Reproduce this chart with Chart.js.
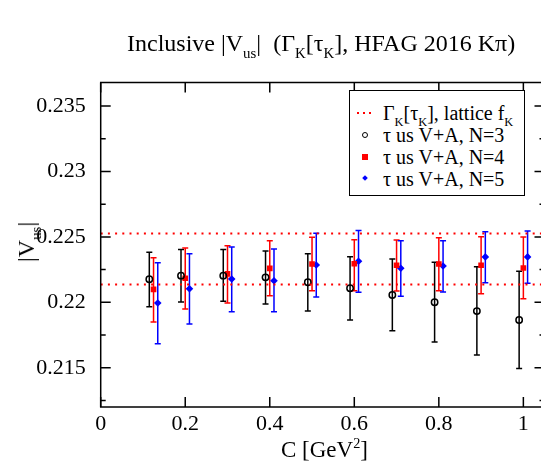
<!DOCTYPE html>
<html>
<head>
<meta charset="utf-8">
<script src="https://cdn.jsdelivr.net/npm/chart.js@4"></script>
<style>
  body { margin: 0; width: 541px; height: 469px; overflow: hidden; background: #fff; position: relative;
         font-family: "Liberation Serif", serif; color: #000; }
  #wrap { position: absolute; left: 0; top: 0; width: 550px; height: 469px; }
  .lbl { position: absolute; white-space: nowrap; line-height: 1; }
  .lbl sub { font-size: 0.62em; vertical-align: -0.45em; line-height: 0; }
  .lbl sup { font-size: 0.62em; vertical-align: 0.65em; line-height: 0; }
  #title { left: 127px; top: 31px; font-size: 24px; }
  #xtitle { left: 281px; top: 438px; font-size: 23px; }
  #ytitle { left: 26px; top: 242px; font-size: 24px; transform: translate(-50%, -50%) rotate(-90deg); }
  #legend { position: absolute; left: 349px; top: 90px; width: 174px; height: 104px; border: 1px solid #000;
            background: #fff; font-size: 20px; }
  .row { position: absolute; left: 0; height: 22px; width: 174px; }
  .row .t { position: absolute; left: 33px; top: 1px; white-space: nowrap; line-height: 1; }
  .row .t sub { font-size: 0.62em; vertical-align: -0.45em; line-height: 0; }
  .sym { position: absolute; }
</style>
</head>
<body>
<div id="wrap"><canvas id="chart" width="550" height="469"></canvas></div>

<div class="lbl" id="title">Inclusive |V<sub>us</sub>|&nbsp; (&Gamma;<sub>K</sub>[&tau;<sub>K</sub>], HFAG 2016 K&pi;)</div>
<div class="lbl" id="xtitle">C [GeV<sup>2</sup>]</div>
<div class="lbl" id="ytitle">|V<sub>us</sub>|</div>

<div id="legend">
  <div class="row" style="top:11px">
    <div class="sym" style="left:7px;top:10px;width:16px;height:2px;background:repeating-linear-gradient(90deg,#f00 0 2px,transparent 2px 6px);"></div>
    <div class="t">&Gamma;<sub>K</sub>[&tau;<sub>K</sub>], lattice f<sub>K</sub></div>
  </div>
  <div class="row" style="top:33px">
    <div class="sym" style="left:12px;top:8px;width:4px;height:4px;border:1px solid #000;border-radius:50%;"></div>
    <div class="t">&tau; us V+A, N=3</div>
  </div>
  <div class="row" style="top:55px">
    <div class="sym" style="left:12px;top:8px;width:6px;height:6px;background:#f00;"></div>
    <div class="t">&tau; us V+A, N=4</div>
  </div>
  <div class="row" style="top:77px">
    <div class="sym" style="left:13px;top:8px;width:4px;height:4px;background:#00f;transform:rotate(45deg);"></div>
    <div class="t">&tau; us V+A, N=5</div>
  </div>
</div>

<script>
// C values of the point groups (GeV^2)
const cValues = [0.125, 0.2, 0.3, 0.4, 0.5, 0.6, 0.7, 0.8, 0.9, 1.0];
// small horizontal shift of each series inside a group
const shiftN3 = -0.01;
const shiftN4 = 0;
const shiftN5 = 0.01;

// tau us V+A, N=3
const n3Vus  = [0.22176, 0.22204, 0.22204, 0.22191, 0.22153, 0.22107, 0.22056, 0.22000, 0.21933, 0.21865];
const n3Low  = [0.21966, 0.22002, 0.22008, 0.21987, 0.21933, 0.21865, 0.21783, 0.21696, 0.21597, 0.21495];
const n3High = [0.22383, 0.22403, 0.22403, 0.22393, 0.22372, 0.22349, 0.22331, 0.22306, 0.22272, 0.22237];

// tau us V+A, N=4
const n4Vus  = [0.22099, 0.22184, 0.22217, 0.22260, 0.22293, 0.22295, 0.22283, 0.22293, 0.22283, 0.22262];
const n4Low  = [0.21849, 0.21949, 0.21995, 0.22051, 0.22089, 0.22088, 0.22086, 0.22089, 0.22066, 0.22028];
const n4High = [0.22341, 0.22416, 0.22433, 0.22471, 0.22497, 0.22478, 0.22477, 0.22494, 0.22502, 0.22500];

// tau us V+A, N=5
const n5Vus  = [0.21995, 0.22104, 0.22178, 0.22165, 0.22285, 0.22314, 0.22260, 0.22278, 0.22347, 0.22347];
const n5Low  = [0.21683, 0.21834, 0.21928, 0.21928, 0.22041, 0.22077, 0.22046, 0.22079, 0.22150, 0.22145];
const n5High = [0.22303, 0.22372, 0.22423, 0.22408, 0.22528, 0.22548, 0.22471, 0.22471, 0.22540, 0.22546];

// Gamma_K[tau_K], lattice f_K band (lower, upper)
const latticeBand = [0.22137, 0.22526];

const xTicks = [0, 0.2, 0.4, 0.6, 0.8, 1];
const yTicks = [0.215, 0.22, 0.225, 0.23, 0.235];
const yMinorTicks = [0.2125, 0.2175, 0.2225, 0.2275, 0.2325];
const xMin = 0, xMax = 1.05, yMin = 0.212, yMax = 0.2368;

function points(vals, shift) {
    return vals.map((v, i) => ({ x: cValues[i] + shift, y: v }));
}

function bandLine(v) {
    return {
        type: 'line',
        data: [{ x: xMin, y: v }, { x: xMax, y: v }],
        borderColor: '#ff0000',
        borderWidth: 2,
        borderDash: [2, 5.2],
        pointRadius: 0,
        fill: false
    };
}

// error bars, drawn under the markers
const errorBars = {
    id: 'errorBars',
    beforeDatasetsDraw(chart) {
        const { ctx } = chart;
        const x = chart.scales.x, y = chart.scales.y;
        chart.data.datasets.forEach(ds => {
            if (!ds.errLow) return;
            ctx.save();
            ctx.strokeStyle = ds.errColor;
            ctx.lineWidth = 1.5;
            ds.data.forEach((p, j) => {
                const px = x.getPixelForValue(p.x);
                const top = y.getPixelForValue(ds.errHigh[j]);
                const bot = y.getPixelForValue(ds.errLow[j]);
                ctx.beginPath();
                ctx.moveTo(px, top); ctx.lineTo(px, bot);
                ctx.moveTo(px - 3, top); ctx.lineTo(px + 3, top);
                ctx.moveTo(px - 3, bot); ctx.lineTo(px + 3, bot);
                ctx.stroke();
            });
            ctx.restore();
        });
    }
};

// box frame with inward ticks on all sides
const frame = {
    id: 'frame',
    afterDraw(chart) {
        const { ctx, chartArea: a } = chart;
        const x = chart.scales.x, y = chart.scales.y;
        ctx.save();
        ctx.strokeStyle = '#000';
        ctx.lineWidth = 1.5;
        ctx.strokeRect(a.left, a.top, a.right - a.left, a.bottom - a.top);
        ctx.beginPath();
        xTicks.forEach(v => {
            const px = x.getPixelForValue(v);
            ctx.moveTo(px, a.bottom); ctx.lineTo(px, a.bottom - 10);
            ctx.moveTo(px, a.top); ctx.lineTo(px, a.top + 10);
        });
        yTicks.forEach(v => {
            const py = y.getPixelForValue(v);
            ctx.moveTo(a.left, py); ctx.lineTo(a.left + 10, py);
            ctx.moveTo(a.right, py); ctx.lineTo(a.right - 10, py);
        });
        yMinorTicks.forEach(v => {
            const py = y.getPixelForValue(v);
            ctx.moveTo(a.left, py); ctx.lineTo(a.left + 5, py);
            ctx.moveTo(a.right, py); ctx.lineTo(a.right - 5, py);
        });
        ctx.stroke();
        ctx.restore();
    }
};

Chart.defaults.font.family = '"Liberation Serif", serif';
Chart.defaults.font.size = 22;
Chart.defaults.color = '#000';

new Chart(document.getElementById('chart'), {
    type: 'scatter',
    data: {
        datasets: [
            bandLine(latticeBand[0]),
            bandLine(latticeBand[1]),
            {
                label: 'N=3',
                data: points(n3Vus, shiftN3),
                errLow: n3Low, errHigh: n3High, errColor: '#000',
                pointStyle: 'circle', pointRadius: 3.2,
                backgroundColor: 'rgba(0,0,0,0)', borderColor: '#000', borderWidth: 1.5
            },
            {
                label: 'N=4',
                data: points(n4Vus, shiftN4),
                errLow: n4Low, errHigh: n4High, errColor: '#ff0000',
                pointStyle: 'rect', pointRadius: 4,
                backgroundColor: '#ff0000', borderColor: '#ff0000', borderWidth: 0
            },
            {
                label: 'N=5',
                data: points(n5Vus, shiftN5),
                errLow: n5Low, errHigh: n5High, errColor: '#0000ff',
                pointStyle: 'rectRot', pointRadius: 3.8,
                backgroundColor: '#0000ff', borderColor: '#0000ff', borderWidth: 0
            }
        ]
    },
    options: {
        responsive: false,
        animation: false,
        devicePixelRatio: 1,
        layout: { padding: { left: 0, top: 82.5, right: 3, bottom: 0 } },
        plugins: { legend: { display: false }, tooltip: { enabled: false } },
        scales: {
            x: {
                type: 'linear', min: xMin, max: xMax,
                afterBuildTicks: axis => { axis.ticks = xTicks.map(v => ({ value: v })); },
                afterFit: axis => { axis.height = 62; },
                grid: { display: false },
                border: { display: false },
                ticks: { padding: -4, maxRotation: 0, callback: v => String(v) }
            },
            y: {
                type: 'linear', min: yMin, max: yMax,
                afterBuildTicks: axis => { axis.ticks = yTicks.map(v => ({ value: v })); },
                afterFit: axis => { axis.width = 100.7; },
                grid: { display: false },
                border: { display: false },
                ticks: { padding: 7, callback: v => String(v) }
            }
        }
    },
    plugins: [errorBars, frame]
});
</script>
</body>
</html>
